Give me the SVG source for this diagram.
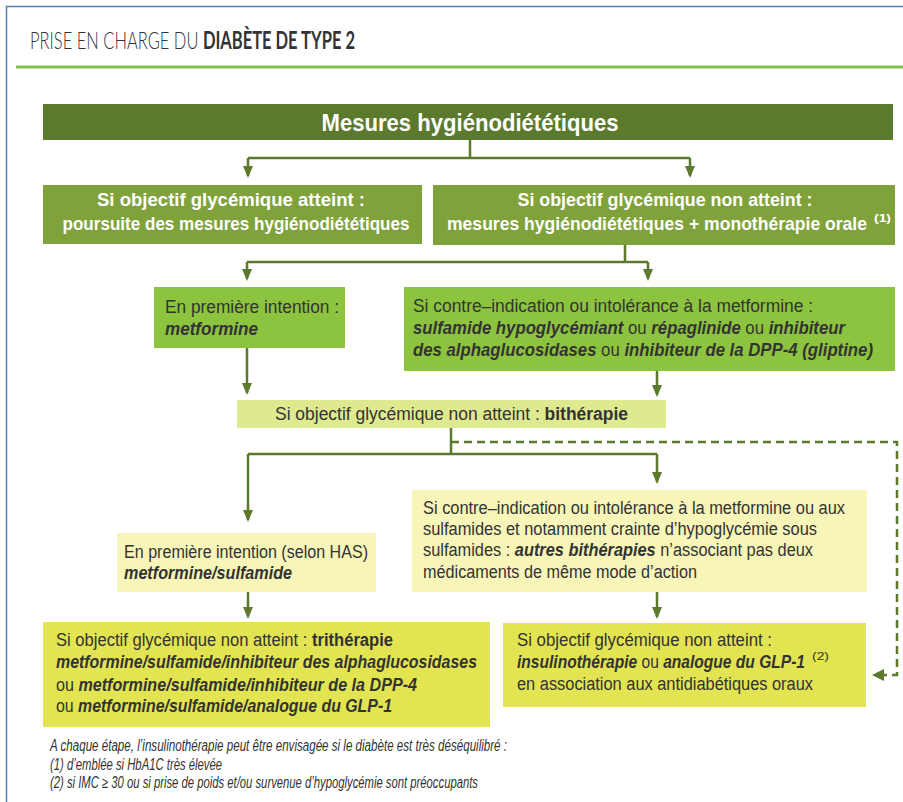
<svg xmlns="http://www.w3.org/2000/svg" width="903" height="802" viewBox="0 0 903 802">
<defs>
<style>
.cn{font-family:"Liberation Sans",Arial,sans-serif;}
.w{fill:#ffffff;font-weight:bold;}
.d{fill:#333333;}
.b{font-weight:bold;}
.i{font-style:italic;font-weight:bold;}
.sup{font-size:10px;}
.con{stroke:#5b7a2e;stroke-width:2.5;fill:none;}
.dash{stroke:#5b7a2e;stroke-width:2.5;fill:none;stroke-dasharray:8 5;}
</style>
<marker id="arr" markerWidth="12" markerHeight="10" refX="10" refY="5" orient="auto" markerUnits="userSpaceOnUse" viewBox="0 0 12 10">
<path d="M0,0 L12,5 L0,10 Z" fill="#5b7a2e"/>
</marker>
</defs>
<rect x="0" y="0" width="903" height="802" fill="#ffffff"/>
<path d="M6.5,802 L6.5,6.5 L903,6.5" stroke="#4f7fc0" stroke-width="1.5" fill="none"/>
<g id="title">
<text x="30" y="49" font-family="Lato,'Open Sans',sans-serif" font-size="24" fill="#333333" textLength="325" lengthAdjust="spacingAndGlyphs"><tspan font-weight="300">PRISE EN CHARGE DU </tspan><tspan font-weight="bold">DIABÈTE DE TYPE 2</tspan></text>
<rect x="16" y="65.5" width="887" height="3" fill="#7dc24a"/>
</g>
<g id="connectors">
<path class="con" d="M470,140 V158 M248,158 H690"/>
<path class="con" d="M248,158 V176" marker-end="url(#arr)"/>
<path class="con" d="M690,158 V176" marker-end="url(#arr)"/>
<path class="con" d="M625,245 V262 M247,262 H648"/>
<path class="con" d="M247,262 V279" marker-end="url(#arr)"/>
<path class="con" d="M648,262 V279" marker-end="url(#arr)"/>
<path class="con" d="M247,348 V393" marker-end="url(#arr)"/>
<path class="con" d="M657,371 V395" marker-end="url(#arr)"/>
<path class="con" d="M451,428 V454 M248,454 H657"/>
<path class="con" d="M248,454 V520" marker-end="url(#arr)"/>
<path class="con" d="M657,454 V482" marker-end="url(#arr)"/>
<path class="dash" d="M451,442 H897 V675 H878"/>
<path d="M872,675 L884,669 L884,681 Z" fill="#5b7a2e"/>
<path class="con" d="M248,592 V617" marker-end="url(#arr)"/>
<path class="con" d="M657,592 V617" marker-end="url(#arr)"/>
</g>
<g id="n-mesures">
<rect x="43" y="104" width="850" height="36" fill="#5b7a2e"/>
<text class="cn w" x="470" y="131" font-size="24" text-anchor="middle" textLength="297" lengthAdjust="spacingAndGlyphs">Mesures hygiénodiététiques</text>
</g>
<g id="n-atteint">
<rect x="43" y="185" width="379" height="59" fill="#80a23b"/>
<text class="cn w" x="231" y="206" font-size="19" text-anchor="middle" textLength="268" lengthAdjust="spacingAndGlyphs">Si objectif glycémique atteint :</text>
<text class="cn w" x="236" y="230" font-size="19" text-anchor="middle" textLength="347" lengthAdjust="spacingAndGlyphs">poursuite des mesures hygiénodiététiques</text>
</g>
<g id="n-nonatteint">
<rect x="433" y="185" width="462" height="60" fill="#80a23b"/>
<text class="cn w" x="665" y="206" font-size="19" text-anchor="middle" textLength="295" lengthAdjust="spacingAndGlyphs">Si objectif glycémique non atteint :</text>
<text class="cn w" x="447" y="230" font-size="19" textLength="420" lengthAdjust="spacingAndGlyphs">mesures hygiénodiététiques + monothérapie orale</text>
<text class="cn w sup" x="874" y="222" textLength="17" lengthAdjust="spacingAndGlyphs">(1)</text>
</g>
<g id="n-metformine">
<rect x="154" y="287" width="191" height="61" fill="#8dc43f"/>
<text class="cn d" x="165" y="313" font-size="18" textLength="174" lengthAdjust="spacingAndGlyphs">En première intention :</text>
<text class="cn d i" x="165" y="335" font-size="18" textLength="93" lengthAdjust="spacingAndGlyphs">metformine</text>
</g>
<g id="n-ci-metformine">
<rect x="404" y="287" width="491" height="84" fill="#8dc43f"/>
<text class="cn d" x="413" y="312" font-size="18" textLength="400" lengthAdjust="spacingAndGlyphs">Si contre–indication ou intolérance à la metformine :</text>
<text class="cn d" x="413" y="334" font-size="18" textLength="432" lengthAdjust="spacingAndGlyphs"><tspan class="i">sulfamide hypoglycémiant</tspan> ou <tspan class="i">répaglinide</tspan> ou <tspan class="i">inhibiteur</tspan></text>
<text class="cn d" x="413" y="356" font-size="18" textLength="460" lengthAdjust="spacingAndGlyphs"><tspan class="i">des alphaglucosidases</tspan> ou <tspan class="i">inhibiteur de la DPP-4 (gliptine)</tspan></text>
</g>
<g id="n-bitherapie">
<rect x="237" y="400" width="429" height="28" fill="#dfe98f"/>
<text class="cn d" x="451.5" y="420" font-size="18" text-anchor="middle" textLength="353" lengthAdjust="spacingAndGlyphs">Si objectif glycémique non atteint : <tspan class="b">bithérapie</tspan></text>
</g>
<g id="n-has">
<rect x="117" y="533" width="259" height="59" fill="#f7f5b8"/>
<text class="cn d" x="124" y="558" font-size="18" textLength="244" lengthAdjust="spacingAndGlyphs">En première intention (selon HAS)</text>
<text class="cn d i" x="124" y="579" font-size="18" textLength="168" lengthAdjust="spacingAndGlyphs">metformine/sulfamide</text>
</g>
<g id="n-autres">
<rect x="412" y="490" width="455" height="102" fill="#f7f5b8"/>
<text class="cn d" x="423" y="514" font-size="18" textLength="422" lengthAdjust="spacingAndGlyphs">Si contre–indication ou intolérance à la metformine ou aux</text>
<text class="cn d" x="423" y="535" font-size="18" textLength="394" lengthAdjust="spacingAndGlyphs">sulfamides et notamment crainte d’hypoglycémie sous</text>
<text class="cn d" x="423" y="556" font-size="18" textLength="390" lengthAdjust="spacingAndGlyphs">sulfamides : <tspan class="i">autres bithérapies</tspan> n’associant pas deux</text>
<text class="cn d" x="423" y="578" font-size="18" textLength="274" lengthAdjust="spacingAndGlyphs">médicaments de même mode d’action</text>
</g>
<g id="n-tritherapie">
<rect x="43" y="622" width="447" height="105" fill="#e2e451"/>
<text class="cn d" x="56" y="646" font-size="18" textLength="337" lengthAdjust="spacingAndGlyphs">Si objectif glycémique non atteint : <tspan class="b">trithérapie</tspan></text>
<text class="cn d i" x="56" y="668" font-size="18" textLength="421" lengthAdjust="spacingAndGlyphs">metformine/sulfamide/inhibiteur des alphaglucosidases</text>
<text class="cn d" x="56" y="691" font-size="18" textLength="361" lengthAdjust="spacingAndGlyphs">ou <tspan class="i">metformine/sulfamide/inhibiteur de la DPP-4</tspan></text>
<text class="cn d" x="56" y="712" font-size="18" textLength="336" lengthAdjust="spacingAndGlyphs">ou <tspan class="i">metformine/sulfamide/analogue du GLP-1</tspan></text>
</g>
<g id="n-insuline">
<rect x="503" y="623" width="363" height="84" fill="#e2e451"/>
<text class="cn d" x="517" y="646" font-size="18" textLength="255" lengthAdjust="spacingAndGlyphs">Si objectif glycémique non atteint :</text>
<text class="cn d" x="517" y="668" font-size="18" textLength="288" lengthAdjust="spacingAndGlyphs"><tspan class="i">insulinothérapie</tspan> ou <tspan class="i">analogue du GLP-1</tspan></text>
<text class="cn d sup" x="812" y="660" textLength="17" lengthAdjust="spacingAndGlyphs">(2)</text>
<text class="cn d" x="517" y="690" font-size="18" textLength="296" lengthAdjust="spacingAndGlyphs">en association aux antidiabétiques oraux</text>
</g>
<g id="notes">
<text class="cn d" x="50" y="751" font-size="16" font-style="italic" textLength="457" lengthAdjust="spacingAndGlyphs">A chaque étape, l’insulinothérapie peut être envisagée si le diabète est très déséquilibré :</text>
<text class="cn d" x="50" y="770" font-size="16" font-style="italic" textLength="172" lengthAdjust="spacingAndGlyphs">(1) d’emblée si HbA1C très élevée</text>
<text class="cn d" x="50" y="788" font-size="16" font-style="italic" textLength="428" lengthAdjust="spacingAndGlyphs">(2) si IMC ≥ 30 ou si prise de poids et/ou survenue d’hypoglycémie sont préoccupants</text>
</g>
</svg>
